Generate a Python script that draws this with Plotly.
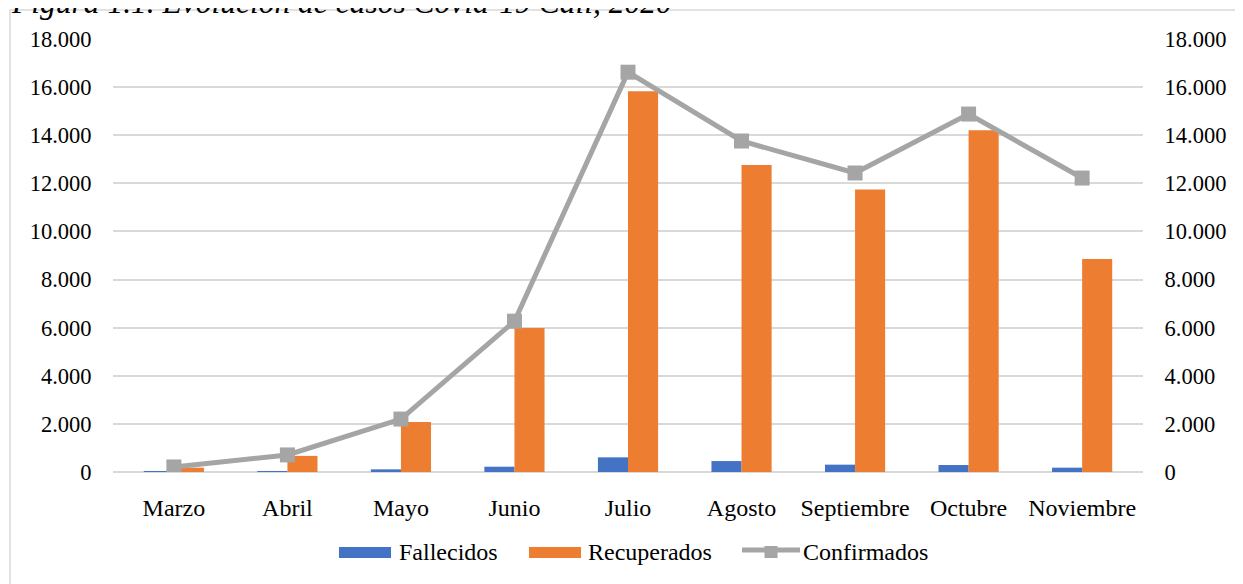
import plotly.graph_objects as go

meses = ["Marzo", "Abril", "Mayo", "Junio", "Julio", "Agosto", "Septiembre", "Octubre", "Noviembre"]
fallecidos = [5, 40, 110, 220, 610, 455, 305, 290, 180]
recuperados = [180, 670, 2080, 5990, 15830, 12760, 11740, 14210, 8850]
confirmados = [210, 710, 2200, 6270, 16620, 13760, 12430, 14880, 12220]
y_ticks = list(range(0, 18001, 2000))
series_names = ["Fallecidos", "Recuperados", "Confirmados"]

FONT = "Liberation Serif, Times New Roman, serif"
AZUL, NARANJA, GRIS = "#4472c4", "#ed7d31", "#a5a5a5"

fig = go.Figure()
fig.add_trace(go.Bar(x=meses, y=fallecidos, name=series_names[0], marker_color=AZUL,
                     marker_line_width=0, yaxis="y"))
fig.add_trace(go.Bar(x=meses, y=recuperados, name=series_names[1], marker_color=NARANJA,
                     marker_line_width=0, yaxis="y"))
fig.add_trace(go.Scatter(x=meses, y=confirmados, name=series_names[2], mode="lines+markers",
                         line=dict(color=GRIS, width=5),
                         marker=dict(symbol="square", size=15, color=GRIS),
                         yaxis="y2"))

axis_common = dict(range=[0, 18000], tickvals=y_ticks, tickformat=",d",
                   ticks="outside", ticklen=16, tickcolor="rgba(0,0,0,0)",
                   tickfont=dict(family=FONT, size=22.5, color="#000"))

fig.update_layout(
    width=1243, height=584,
    margin=dict(l=105, r=108, t=31, b=120),
    paper_bgcolor="white", plot_bgcolor="white",
    separators=",.",
    barmode="group", bargap=0.47, bargroupgap=0,
    font=dict(family=FONT, size=24, color="#000"),
    xaxis=dict(showgrid=False, showline=False, ticks="outside", ticklen=14,
               tickcolor="rgba(0,0,0,0)", tickfont=dict(family=FONT, size=24, color="#000")),
    yaxis=dict(showgrid=True, gridcolor="#d9d9d9", gridwidth=2, zeroline=True,
               zerolinecolor="#d9d9d9", zerolinewidth=2, showline=False, **axis_common),
    yaxis2=dict(overlaying="y", side="right", showgrid=False, zeroline=False,
                showline=False, **axis_common),
    showlegend=False,
)

# chart frame
fig.add_shape(type="rect", xref="paper", yref="paper",
              x0=-0.1, x1=1.2, y0=-0.35, y1=1.067,
              line=dict(color="#d9d9d9", width=1.5), fillcolor="rgba(0,0,0,0)", layer="below")

# custom legend (wide swatches as in the reference)
LEG_Y0, LEG_Y1, LEG_YM = -0.1986, -0.1732, -0.1848
fig.add_shape(type="rect", xref="paper", yref="paper", x0=0.2194, x1=0.2699,
              y0=LEG_Y0, y1=LEG_Y1, fillcolor=AZUL, line_width=0)
fig.add_shape(type="rect", xref="paper", yref="paper", x0=0.4039, x1=0.4544,
              y0=LEG_Y0, y1=LEG_Y1, fillcolor=NARANJA, line_width=0)
fig.add_shape(type="line", xref="paper", yref="paper", x0=0.6107, x1=0.6670,
              y0=-0.1801, y1=-0.1801, line=dict(color=GRIS, width=5))
fig.add_shape(type="rect", xref="paper", yref="paper", x0=0.6325, x1=0.6452,
              y0=-0.1986, y1=-0.1709, fillcolor=GRIS, line_width=0)
for xpos, name in zip([0.2757, 0.4592, 0.6680], series_names):
    fig.add_annotation(text=name, xref="paper", yref="paper", x=xpos, y=LEG_YM,
                       xanchor="left", yanchor="middle", showarrow=False,
                       font=dict(family=FONT, size=24, color="#000"))

fig.add_annotation(text="<i>Figura 1.1. Evolución de casos Covid-19 Cali, 2020</i>",
                   xref="paper", yref="paper", x=-0.1010, y=1.040,
                   xanchor="left", yanchor="bottom", showarrow=False,
                   font=dict(family=FONT, size=31.5, color="#000"))

fig.write_html("out.html")
